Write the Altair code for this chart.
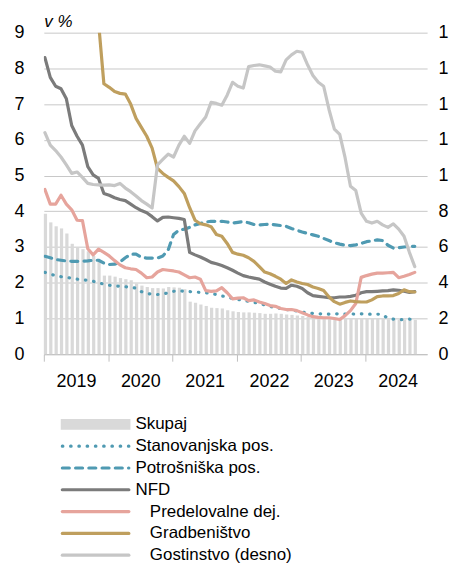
import altair as alt
import pandas as pd

FONT = "Liberation Sans, Arial, sans-serif"

# Monthly data, Jan 2019 - Oct 2024 (v %)
skupaj = [3.93, 3.69, 3.58, 3.52, 3.38, 3.09, 3.00, 2.94, 2.88, 2.75,
          2.60, 2.20, 2.20, 2.17, 2.13, 2.10, 2.07, 1.98, 1.92, 1.88,
          1.85, 1.85, 1.84, 1.88, 1.87, 1.86, 1.82, 1.47, 1.44, 1.39,
          1.35, 1.30, 1.29, 1.28, 1.23, 1.20, 1.18, 1.17, 1.17, 1.16,
          1.15, 1.13, 1.13, 1.14, 1.13, 1.11, 1.10, 1.08, 1.07, 1.04,
          1.03, 1.02, 1.02, 1.01, 1.01, 1.00, 1.00, 1.00, 1.00, 1.00,
          1.00, 1.00, 0.99, 0.99, 0.98, 0.98, 0.97, 0.97, 0.96, 0.96]
stanovanjska = [2.29, 2.24, 2.20, 2.17, 2.15, 2.13, 2.10, 2.08, 2.07, 2.04,
                2.00, 1.96, 1.93, 1.91, 1.90, 1.89, 1.87, 1.85, 1.75, 1.70,
                1.68, 1.67, 1.68, 1.72, 1.76, 1.78, 1.76, 1.75, 1.74, 1.73,
                1.72, 1.70, 1.67, 1.63, 1.60, 1.56, 1.53, 1.51, 1.48, 1.45,
                1.42, 1.38, 1.34, 1.30, 1.28, 1.25, 1.23, 1.21, 1.18, 1.16,
                1.14, 1.13, 1.13, 1.12, 1.13, 1.13, 1.12, 1.13, 1.12, 1.13,
                1.12, 1.12, 1.12, 1.11, 1.00, 0.98, 0.97, 0.97, 0.98, 0.97]
potrosniska = [2.74, 2.70, 2.65, 2.63, 2.61, 2.60, 2.60, 2.60, 2.61, 2.63,
               2.63, 2.55, 2.51, 2.52, 2.58, 2.70, 2.80, 2.80, 2.71, 2.69,
               2.69, 2.69, 2.75, 2.92, 3.35, 3.47, 3.50, 3.55, 3.62, 3.66,
               3.70, 3.72, 3.72, 3.72, 3.70, 3.67, 3.69, 3.71, 3.68, 3.63,
               3.62, 3.63, 3.64, 3.62, 3.60, 3.58, 3.52, 3.47, 3.42, 3.38,
               3.34, 3.30, 3.24, 3.18, 3.12, 3.08, 3.05, 3.04, 3.06, 3.10,
               3.15, 3.17, 3.20, 3.18, 3.05, 2.97, 2.98, 3.00, 3.02, 3.02]
nfd = [8.30, 7.75, 7.50, 7.43, 7.15, 6.40, 6.10, 5.85, 5.25, 5.02,
       4.92, 4.50, 4.45, 4.38, 4.33, 4.30, 4.20, 4.10, 4.02, 3.96,
       3.85, 3.73, 3.83, 3.84, 3.82, 3.80, 3.77, 2.85, 2.78, 2.72,
       2.65, 2.57, 2.53, 2.48, 2.42, 2.35, 2.27, 2.20, 2.16, 2.13,
       2.10, 2.02, 1.96, 1.90, 1.85, 1.84, 1.93, 1.90, 1.84, 1.72,
       1.64, 1.62, 1.60, 1.58, 1.58, 1.60, 1.60, 1.62, 1.65, 1.72,
       1.75, 1.75, 1.76, 1.77, 1.78, 1.80, 1.79, 1.76, 1.73, 1.75]
predelovalne = [4.61, 4.20, 4.20, 4.45, 4.20, 4.04, 3.75, 3.74, 2.95, 2.78,
                2.94, 2.85, 2.75, 2.62, 2.50, 2.42, 2.39, 2.37, 2.27, 2.14,
                2.16, 2.30, 2.37, 2.35, 2.33, 2.30, 2.22, 2.14, 2.16, 2.10,
                1.78, 1.76, 1.77, 1.86, 1.72, 1.55, 1.57, 1.58, 1.50, 1.52,
                1.46, 1.42, 1.36, 1.34, 1.28, 1.25, 1.25, 1.22, 1.16, 1.10,
                1.05, 1.03, 1.02, 1.02, 1.00, 0.97, 1.08, 1.22, 1.42, 2.15,
                2.20, 2.24, 2.27, 2.27, 2.28, 2.29, 2.14, 2.18, 2.23, 2.29]
gradbenistvo = [None, None, None, None, None, None, None, None, None, None,
                9.30, 7.57, 7.47, 7.35, 7.30, 7.28, 7.00, 6.60, 6.35, 6.10,
                5.77, 5.20, 5.06, 4.95, 4.85, 4.69, 4.50, 4.10, 3.75, 3.65,
                3.62, 3.57, 3.35, 3.30, 3.10, 2.85, 2.80, 2.77, 2.70, 2.60,
                2.45, 2.30, 2.25, 2.18, 2.10, 1.98, 2.08, 2.02, 1.98, 1.95,
                1.88, 1.84, 1.78, 1.60, 1.47, 1.40, 1.45, 1.49, 1.47, 1.46,
                1.46, 1.52, 1.61, 1.63, 1.63, 1.64, 1.70, 1.80, 1.75, 1.74]
# right axis
gostinstvo = [12.40, 11.70, 11.40, 11.04, 10.60, 10.12, 10.20, 9.90, 9.56, 9.50,
              9.48, 9.46, 9.48, 9.44, 9.56, 9.30, 9.10, 8.86, 8.60, 8.40,
              8.18, 10.60, 10.90, 11.20, 11.04, 11.70, 12.20, 11.80, 12.50, 12.90,
              13.28, 14.10, 14.04, 13.94, 14.50, 15.22, 15.00, 14.90, 16.10, 16.16,
              16.20, 16.14, 16.08, 15.84, 15.80, 16.48, 16.76, 16.96, 16.90, 16.20,
              15.60, 15.22, 15.00, 13.70, 12.60, 12.30, 11.00, 9.40, 9.16, 7.90,
              7.44, 7.34, 7.44, 7.24, 7.10, 7.30, 7.00, 6.60, 5.70, 4.90]

year_ticks = [0, 12, 24, 36, 48, 60]
left_ticks = list(range(0, 10))
right_ticks = list(range(0, 20, 2))

labels = ["Skupaj", "Stanovanjska pos.", "Potrošniška pos.", "NFD",
          "Predelovalne dej.", "Gradbeništvo", "Gostinstvo (desno)"]

TEAL = "#4f9ab2"
C_BAR = "#d9d9d9"
C_NFD = "#7b7b7b"
C_PRED = "#e6a49c"
C_GRAD = "#bf9f5e"
C_GOST = "#c6c6c6"

n = len(skupaj)
df = pd.DataFrame({
    "t": list(range(n)),
    "skupaj": skupaj,
    "stan": stanovanjska,
    "potr": potrosniska,
    "nfd": nfd,
    "pred": predelovalne,
    "grad": gradbenistvo,
    "gost": gostinstvo,
})
df["tb2"] = df["t"] + 0.6
df["tl"] = df["t"] + 0.2

xscale = alt.Scale(domain=[0, 71.5], nice=False, zero=False)
xaxis = alt.Axis(values=year_ticks, labelExpr="'' + (2019 + datum.value / 12)",
                 labelOffset=32.3, labelFlush=False, labelOverlap=False,
                 tickSize=7, tickColor="#bfbfbf", domainColor="#bfbfbf",
                 labelPadding=11, grid=False, title=None,
                 labelFontSize=18, labelFont=FONT, labelColor="#000000")
yscale = alt.Scale(domain=[0, 9], nice=False, zero=True)
yaxis = alt.Axis(values=left_ticks, grid=True, gridColor="#c8c8c8", tickSize=0,
                 domain=False, labelPadding=20, labelFontSize=18, labelFont=FONT,
                 labelColor="#000000", title="v %", titleAngle=0, titleX=0,
                 titleY=-11, titleAlign="left", titleBaseline="middle",
                 titleFontStyle="italic", titleFontWeight="normal",
                 titleFontSize=17, titleFont=FONT, titleColor="#000000")
yscale_r = alt.Scale(domain=[0, 18], nice=False, zero=True)
# the reference shows only the first digit of the right-hand labels
yaxis_r = alt.Axis(values=right_ticks, orient="right", grid=False, tickSize=0,
                   domain=False, labelPadding=11, labelFontSize=18, labelFont=FONT,
                   labelColor="#000000", title=None,
                   labelExpr="substring(datum.label, 0, 1)")

base = alt.Chart(df)

bars = base.mark_rect(color=C_BAR).encode(
    x=alt.X("t:Q", scale=xscale, axis=xaxis),
    x2="tb2:Q",
    y=alt.Y("skupaj:Q", scale=yscale, axis=yaxis),
    y2=alt.datum(0),
)


def line(field, color, dash=None, cap="round"):
    kw = dict(color=color, strokeWidth=3.2, strokeCap=cap, strokeJoin="round", clip=True)
    if dash is not None:
        kw["strokeDash"] = dash
    return base.mark_line(**kw).encode(
        x=alt.X("tl:Q", scale=xscale, axis=xaxis),
        y=alt.Y(f"{field}:Q", scale=yscale, axis=yaxis),
    )


stan_l = line("stan", TEAL, [0.5, 7.8])
potr_l = line("potr", TEAL, [7, 6.3])
nfd_l = line("nfd", C_NFD)
pred_l = line("pred", C_PRED)
grad_l = line("grad", C_GRAD).transform_filter("isValid(datum.grad)")

left = alt.layer(bars, stan_l, potr_l, nfd_l, pred_l, grad_l)

gost_l = base.mark_line(color=C_GOST, strokeWidth=3.2, strokeCap="round",
                        strokeJoin="round").encode(
    x=alt.X("tl:Q", scale=xscale, axis=xaxis),
    y=alt.Y("gost:Q", scale=yscale_r, axis=yaxis_r),
)

# legend (drawn below the plot)
row_y = [393.5, 415.4, 437.3, 459.2, 481.1, 503.0, 521.5 + 3.4]
text_x = [92, 92, 92, 92, 106.5, 106.5, 106.5]
styles = [None,
          (TEAL, [0.5, 7.8]),
          (TEAL, [7, 6.3]),
          (C_NFD, None),
          (C_PRED, None),
          (C_GRAD, None),
          (C_GOST, None)]

legend_layers = []
for i, lab in enumerate(labels):
    ldf = pd.DataFrame({"label": [lab]})
    lb = alt.Chart(ldf)
    if styles[i] is None:
        sym = lb.mark_rect(color=C_BAR).encode(
            x=alt.value(17), x2=alt.value(87),
            y=alt.value(row_y[i] - 5.5), y2=alt.value(row_y[i] + 5.5))
    else:
        col, dash = styles[i]
        kw = dict(color=col, strokeWidth=3.2, strokeCap="round")
        if dash is not None:
            kw["strokeDash"] = dash
        sym = lb.mark_rule(**kw).encode(
            x=alt.value(18.6), x2=alt.value(85.4), y=alt.value(row_y[i]))
    txt = lb.mark_text(align="left", baseline="middle", fontSize=17, font=FONT,
                       color="#000000").encode(
        x=alt.value(text_x[i]), y=alt.value(row_y[i]), text="label:N")
    legend_layers += [sym, txt]

chart = alt.layer(left, gost_l, *legend_layers).resolve_scale(
    y="independent"
).properties(
    width=385, height=323, background="#ffffff",
    padding={"left": 5, "top": 3.5, "right": 0, "bottom": 0},
).configure_view(stroke=None)

chart.save("out.html", embed_options={"renderer": "svg", "actions": False})
